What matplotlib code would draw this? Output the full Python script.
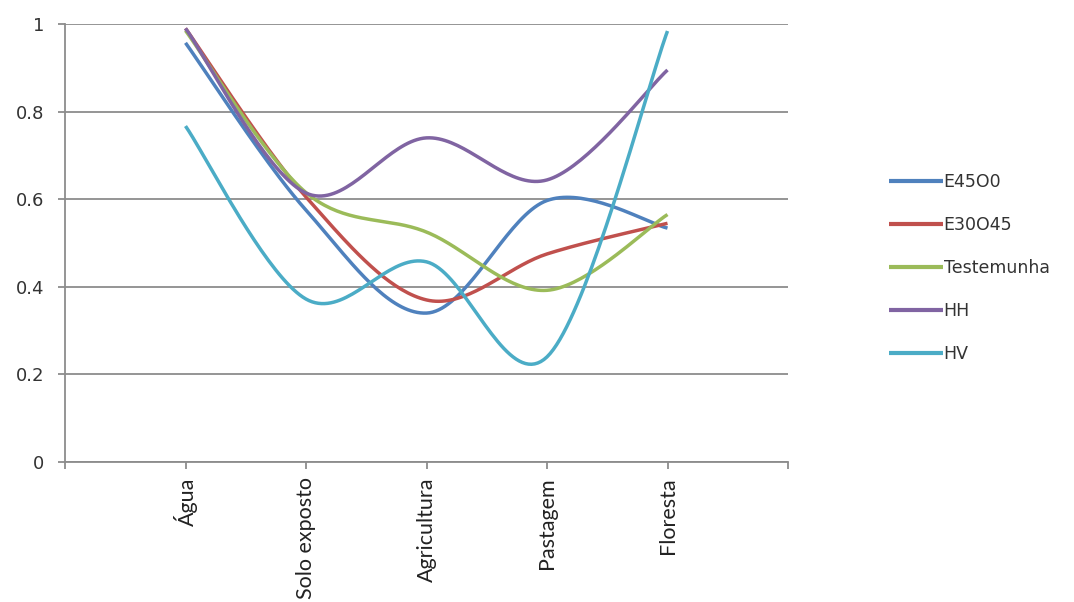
import numpy as np
import matplotlib
matplotlib.use("Agg")
import matplotlib.pyplot as plt

categories = ["Água", "Solo exposto", "Agricultura", "Pastagem", "Floresta"]
series_names = ["E45O0", "E30O45", "Testemunha", "HH", "HV"]
e45o0 = [0.957, 0.575, 0.340, 0.597, 0.534]
e30o45 = [0.990, 0.605, 0.370, 0.475, 0.545]
testemunha = [0.985, 0.615, 0.525, 0.392, 0.565]
hh = [0.990, 0.614, 0.740, 0.644, 0.895]
hv = [0.767, 0.372, 0.457, 0.240, 0.984]
colors = ["#4F81BD", "#C0504D", "#9BBB59", "#8064A2", "#4BACC6"]
y_ticks = [0, 0.2, 0.4, 0.6, 0.8, 1.0]


def smooth(xs, ys, n=40):
    xs = np.asarray(xs, float)
    ys = np.asarray(ys, float)
    px = np.concatenate([[xs[0]], xs, [xs[-1]]])
    py = np.concatenate([[ys[0]], ys, [ys[-1]]])
    outx, outy = [], []
    t = np.linspace(0, 1, n)
    for i in range(1, len(px) - 2):
        p0 = np.array([px[i], py[i]])
        p3 = np.array([px[i + 1], py[i + 1]])
        p1 = p0 + (np.array([px[i + 1], py[i + 1]]) - np.array([px[i - 1], py[i - 1]])) / 6
        p2 = p3 - (np.array([px[i + 2], py[i + 2]]) - np.array([px[i], py[i]])) / 6
        b = ((1 - t) ** 3)[:, None] * p0 + (3 * (1 - t) ** 2 * t)[:, None] * p1 \
            + (3 * (1 - t) * t ** 2)[:, None] * p2 + (t ** 3)[:, None] * p3
        outx.extend(b[:, 0])
        outy.extend(b[:, 1])
    return np.array(outx), np.array(outy)


fig = plt.figure(figsize=(10.74, 6.02), dpi=100)
ax = fig.add_axes([65 / 1074, 1 - 462 / 602, (788 - 65) / 1074, (462 - 24) / 602])

x = np.arange(1, len(categories) + 1)
for name, vals, c in zip(series_names, [e45o0, e30o45, testemunha, hh, hv], colors):
    sx, sy = smooth(x, vals)
    ax.plot(sx, sy, color=c, lw=2.5, label=name, solid_capstyle="butt")

ax.set_xlim(0, len(categories) + 1)
ax.set_ylim(0, 1)
ax.set_yticks(y_ticks)
ax.set_yticklabels(["0", "0.2", "0.4", "0.6", "0.8", "1"], fontsize=13, color="#333333")
ax.set_xticks(np.arange(0, len(categories) + 2))
ax.set_xticklabels([""] + categories + [""], rotation=90, fontsize=15.5,
                   family=["Lato", "DejaVu Sans"], color="#222222")
ax.grid(axis="y", color="#8C8C8C", lw=1.3)
ax.set_axisbelow(True)
for s in ["top", "right"]:
    ax.spines[s].set_visible(False)
for s in ["left", "bottom"]:
    ax.spines[s].set_color("#8C8C8C")
    ax.spines[s].set_linewidth(1.3)
ax.tick_params(axis="y", length=5, width=1.3, color="#8C8C8C", pad=10)
ax.tick_params(axis="x", length=5, width=1.3, color="#8C8C8C", pad=6)

leg = fig.legend(loc="center left", bbox_to_anchor=(882 / 1074, 1 - 268 / 602), frameon=False,
                 fontsize=12.5, labelspacing=1.45, handlelength=3.1, handletextpad=0.05,
                 borderaxespad=0)
for h in leg.legend_handles:
    h.set_linewidth(3)
for t in leg.get_texts():
    t.set_color("#333333")

fig.savefig("out.png", dpi=100)
